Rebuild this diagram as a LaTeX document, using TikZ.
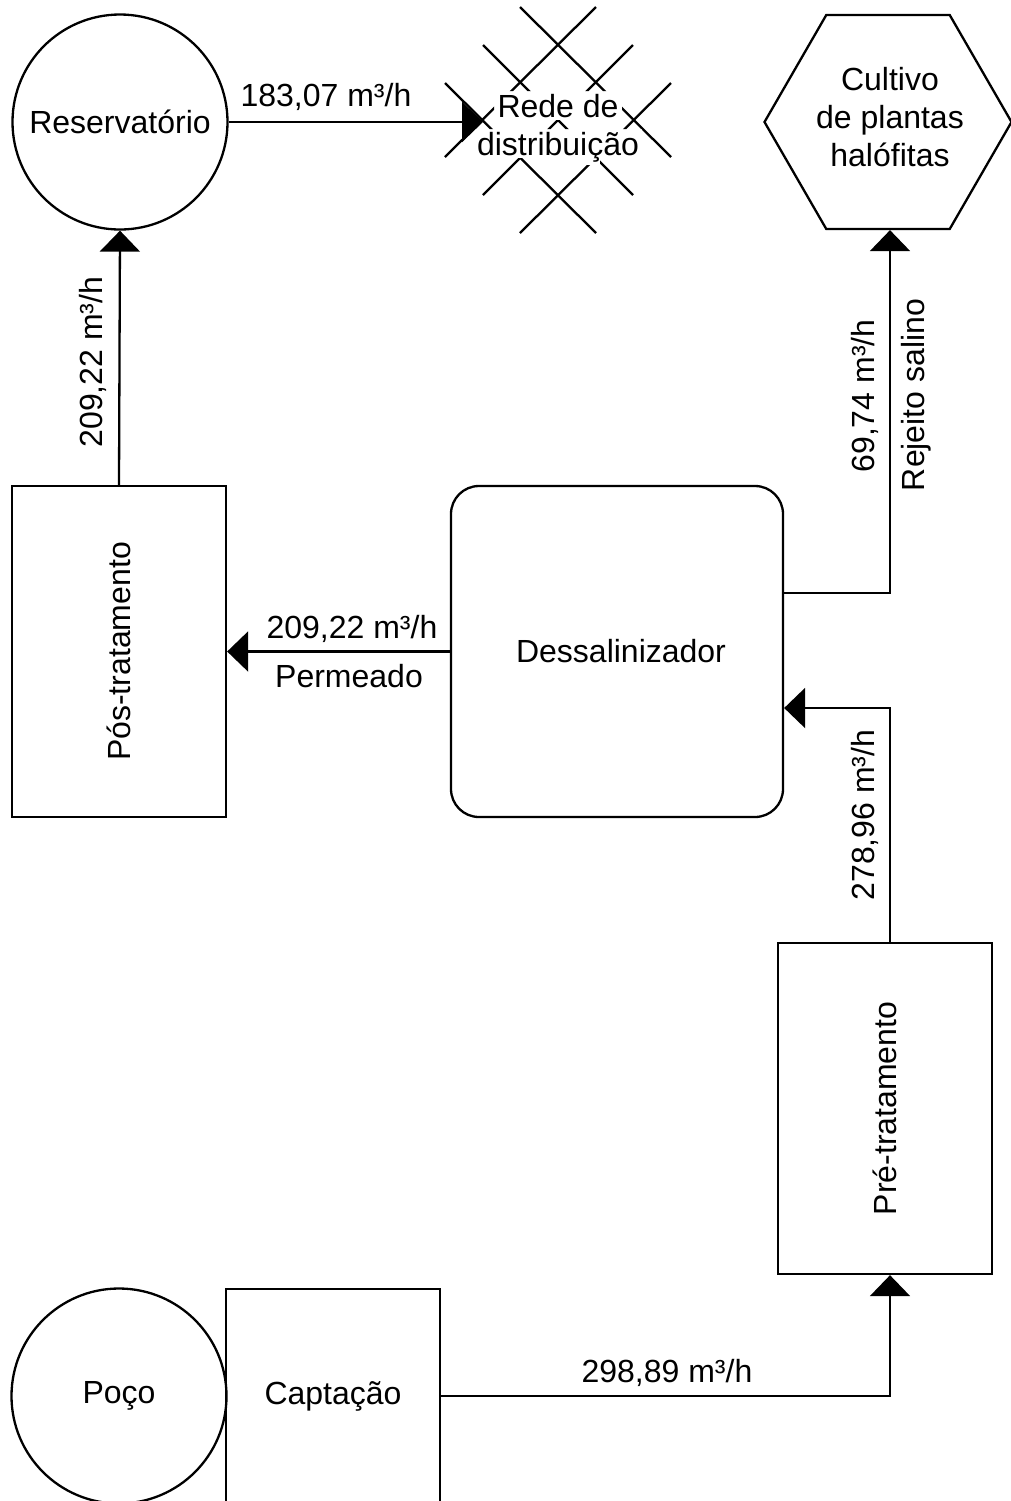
\documentclass[tikz,border=0pt]{standalone}
\usepackage{fontspec}
\setmainfont{Liberation Sans}
\usetikzlibrary{arrows.meta,shapes.geometric}
\begin{document}
\begin{tikzpicture}[x=0.5pt,y=-0.5pt,
  every node/.style={font=\fontsize{16}{19}\selectfont, inner sep=0pt, align=center},
  ln/.style={line width=1.15pt},
  box/.style={draw, ln, rectangle, minimum width=107pt, minimum height=165.5pt},
  roundbox/.style={draw, ln, rectangle, rounded corners=14pt, minimum width=166pt, minimum height=165.5pt},
  tank/.style={draw, ln, circle, minimum size=107.5pt},
  flow/.style={ln, -{Triangle[length=10.5pt,width=20pt]}},
  vlabel/.style={rotate=90}
]
\useasboundingbox (0,0) rectangle (1011,1501);

% units: 1 = one pixel of the finished picture
\node[tank] (res) at (120,122) {Reservatório};
\node[tank] (poco) at (119,1396) {Poço};
\node[draw, ln, minimum size=107pt] (capt) at (333,1396) {Captação};
\node[box] (pos) at (119,651.5) {};
\node[vlabel] at (pos.center) {Pós-tratamento};
\node[roundbox] (dess) at (617,651.5) {};
\node at (621,651) {Dessalinizador};
\node[box] (pre) at (885,1108.5) {};
\node[vlabel] at (pre.center) {Pré-tratamento};

% halophyte crop area
\node[draw, ln, regular polygon, regular polygon sides=6, minimum size=123.5pt] (cult) at (888,122) {};
\node at (890,117) {Cultivo\\de plantas\\halófitas};

% distribution network: a crossed grid of lines, kept clear of its two text lines
\coordinate (rede) at (558,120);
\begin{scope}[even odd rule]
  \clip (430,-10) rectangle (690,250)
        (494,91) rectangle (622,120)
        (475,129) rectangle (642,158)
        (585,158) rectangle (600,165);
  \begin{scope}[ln, shift={(rede)}]
    \draw (-38,-113) -- (113,37);
    \draw (-75,-75) -- (75,75);
    \draw (-113,-37) -- (38,113);
    \draw (38,-113) -- (-113,37);
    \draw (75,-75) -- (-75,75);
    \draw (113,-37) -- (-38,113);
  \end{scope}
\end{scope}
\node (redetxt) at (558,128) {Rede de\\distribuição};
\coordinate (redein) at (483,122);

% routing points
\coordinate (rejx) at (890,593);
\coordinate (alimx) at (890,708);
\coordinate (captx) at (890,1396);

% flows
\draw[flow] (pos.north) -- (res.south);
\draw[flow] (res.east) -- (redein);
\draw[flow] (dess.west) -- (pos.east);
\draw[flow] (dess.east |- rejx) -- (rejx) -- (rejx |- cult.south);
\draw[flow] (rejx |- pre.north) -- (alimx) -- (dess.east |- alimx);
\draw[flow] (capt.east) -- (captx) -- (captx |- pre.south);

% flow labels
\node at (326,97) {183,07 m³/h};
\node[vlabel] at (93,362) {209,22 m³/h};
\node at (352,629) {209,22 m³/h};
\node at (349,676) {Permeado};
\node[vlabel] at (865,396) {69,74 m³/h};
\node[vlabel] at (916,395) {Rejeito salino};
\node[vlabel] at (865,815) {278,96 m³/h};
\node at (667,1373) {298,89 m³/h};
\end{tikzpicture}
\end{document}
